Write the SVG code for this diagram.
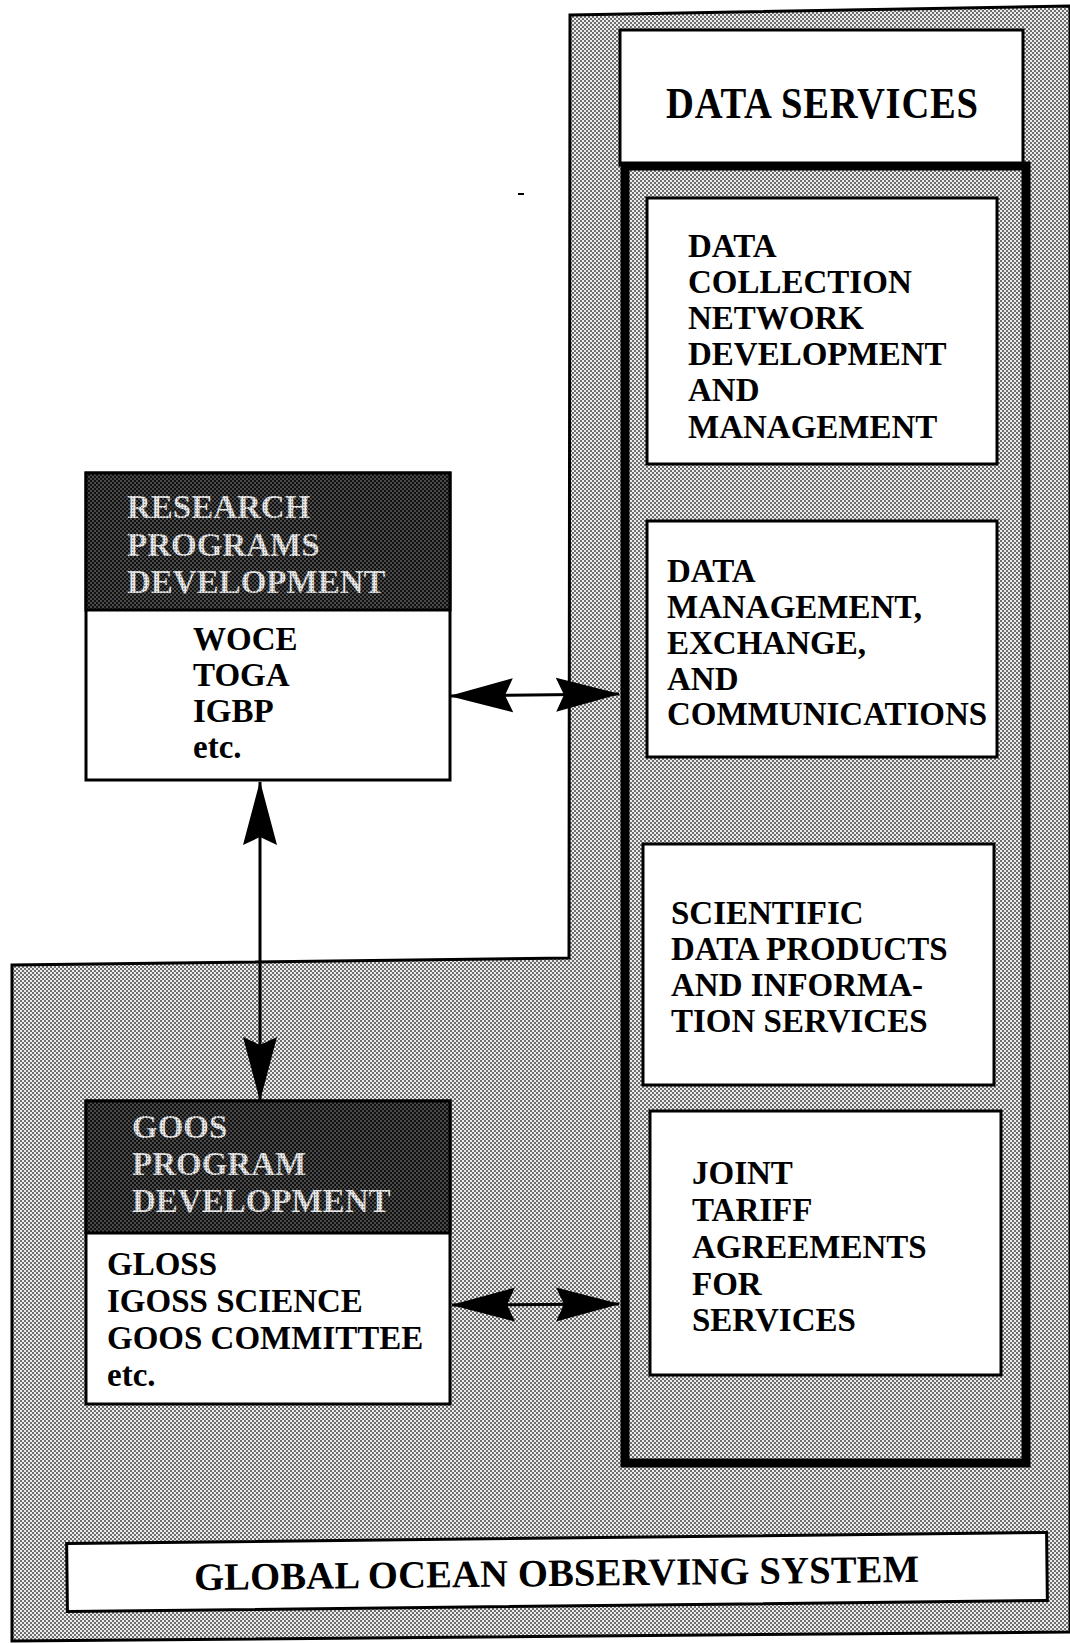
<svg xmlns="http://www.w3.org/2000/svg" width="1070" height="1643" viewBox="0 0 1070 1643">
<defs>
<pattern id="gray" width="4" height="4" patternUnits="userSpaceOnUse">
<rect width="4" height="4" fill="#ececec"/>
<rect x="0" y="0" width="2" height="2" fill="#6e6e6e"/>
<rect x="2" y="2" width="2" height="2" fill="#6e6e6e"/>
</pattern>
<pattern id="dark" width="4" height="4" patternUnits="userSpaceOnUse">
<rect width="4" height="4" fill="#111"/>
<rect x="0" y="0" width="2" height="2" fill="#4a4a4a"/>
<rect x="2" y="2" width="2" height="2" fill="#4a4a4a"/>
</pattern>
<pattern id="lighttext" width="3" height="3" patternUnits="userSpaceOnUse">
<rect width="3" height="3" fill="#e8e8e8"/>
<rect x="0" y="0" width="1.5" height="1.5" fill="#8a8a8a"/>
</pattern>
<marker id="ah" viewBox="0 0 64 36" markerWidth="64" markerHeight="36" refX="63" refY="18" markerUnits="userSpaceOnUse" orient="auto-start-reverse">
<path d="M64,18 L0,1 L8,18 L0,35 Z" fill="#000"/>
</marker>
</defs>
<style>
text{font-family:"Liberation Serif","Times New Roman",serif;font-weight:bold;fill:#000}
.t{font-size:33px}
.hd{font-size:33px;fill:url(#lighttext)}
.box{fill:#fff;stroke:#000;stroke-width:3}
.conn{stroke:#000;stroke-width:3;fill:none}
</style>
<rect width="1070" height="1643" fill="#fff"/>

<g id="goos-area">
<path d="M570,15 L1070,6 L1070,1632 L12,1641 L12,965 L569,958 Z" fill="url(#gray)" stroke="#000" stroke-width="3"/>
</g>

<g id="data-services">
<rect x="620" y="30" width="403" height="135" class="box"/>
<text transform="translate(666,118) scale(1,1.16)" font-size="38.6" textLength="312">DATA SERVICES</text>
<rect x="625" y="166" width="401" height="1297" fill="url(#gray)" stroke="#000" stroke-width="9"/>
</g>

<g id="data-collection">
<rect x="647" y="198" width="350" height="266" class="box"/>
<text class="t" x="688" y="257">DATA</text>
<text class="t" x="688" y="293">COLLECTION</text>
<text class="t" x="688" y="329">NETWORK</text>
<text class="t" x="688" y="365">DEVELOPMENT</text>
<text class="t" x="688" y="401">AND</text>
<text class="t" x="688" y="438">MANAGEMENT</text>
</g>

<g id="data-management">
<rect x="647" y="521" width="350" height="236" class="box"/>
<text class="t" x="667" y="582">DATA</text>
<text class="t" x="667" y="618">MANAGEMENT,</text>
<text class="t" x="667" y="654">EXCHANGE,</text>
<text class="t" x="667" y="690">AND</text>
<text class="t" x="667" y="725">COMMUNICATIONS</text>
</g>

<g id="scientific">
<rect x="643" y="844" width="351" height="241" class="box"/>
<text class="t" x="671" y="924">SCIENTIFIC</text>
<text class="t" x="671" y="960">DATA PRODUCTS</text>
<text class="t" x="671" y="996">AND INFORMA-</text>
<text class="t" x="671" y="1032">TION SERVICES</text>
</g>

<g id="joint-tariff">
<rect x="650" y="1111" width="351" height="264" class="box"/>
<text class="t" x="692" y="1184">JOINT</text>
<text class="t" x="692" y="1221">TARIFF</text>
<text class="t" x="692" y="1258">AGREEMENTS</text>
<text class="t" x="692" y="1295">FOR</text>
<text class="t" x="692" y="1331">SERVICES</text>
</g>

<g id="research">
<rect x="86" y="473" width="364" height="307" class="box"/>
<rect x="86" y="473" width="364" height="137" fill="url(#dark)" stroke="#000" stroke-width="3"/>
<text class="hd" x="127" y="518">RESEARCH</text>
<text class="hd" x="127" y="556">PROGRAMS</text>
<text class="hd" x="127" y="593">DEVELOPMENT</text>
<text class="t" x="193" y="650">WOCE</text>
<text class="t" x="193" y="686">TOGA</text>
<text class="t" x="193" y="722">IGBP</text>
<text class="t" x="193" y="758">etc.</text>
</g>

<g id="goos-program">
<rect x="86" y="1101" width="364" height="303" class="box"/>
<rect x="86" y="1101" width="364" height="132" fill="url(#dark)" stroke="#000" stroke-width="3"/>
<text class="hd" x="132" y="1138">GOOS</text>
<text class="hd" x="132" y="1175">PROGRAM</text>
<text class="hd" x="132" y="1212">DEVELOPMENT</text>
<text class="t" x="107" y="1275">GLOSS</text>
<text class="t" x="107" y="1312">IGOSS SCIENCE</text>
<text class="t" x="107" y="1349">GOOS COMMITTEE</text>
<text class="t" x="107" y="1386">etc.</text>
</g>

<g id="gos">
<g transform="rotate(-0.65 557 1572)">
<rect x="67" y="1538" width="980" height="68" class="box"/>
<text x="194" y="1586" font-size="38.6" textLength="725">GLOBAL OCEAN OBSERVING SYSTEM</text>
</g>
</g>

<g id="connectors">
<line class="conn" x1="450" y1="696" x2="619" y2="694" marker-start="url(#ah)" marker-end="url(#ah)"/>
<line class="conn" x1="260" y1="782" x2="260" y2="1100" marker-start="url(#ah)" marker-end="url(#ah)"/>
<line class="conn" x1="452" y1="1305" x2="619" y2="1304" marker-start="url(#ah)" marker-end="url(#ah)"/>
</g>
<line x1="518" y1="194" x2="524" y2="194" stroke="#000" stroke-width="2"/>
</svg>
